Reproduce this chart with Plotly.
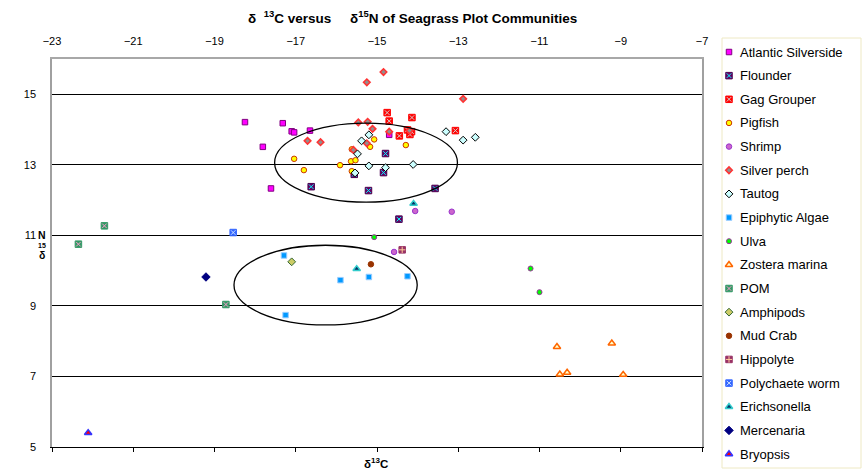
import plotly.graph_objects as go

# ---------------- data (δ13C, δ15N) ----------------
atlantic_silverside_x = [-18.25, -17.32, -17.10, -17.04, -16.65, -17.81, -17.61, -14.70]
atlantic_silverside_y = [14.21, 14.18, 13.95, 13.92, 13.97, 13.51, 12.33, 13.85]

flounder_x = [-14.79, -14.84, -16.62, -15.21, -13.57, -15.56, -14.46]
flounder_y = [13.32, 12.78, 12.38, 12.27, 12.33, 12.73, 11.46]

gag_grouper_x = [-14.75, -14.70, -14.14, -14.25, -14.15, -14.45, -14.19, -13.07]
gag_grouper_y = [14.48, 14.24, 14.34, 13.99, 13.94, 13.82, 13.86, 13.97]

pigfish_x = [-15.07, -15.17, -15.62, -14.29, -17.04, -16.80, -15.91, -15.64, -15.53, -15.62]
pigfish_y = [13.72, 13.51, 13.44, 13.56, 13.17, 12.85, 12.99, 13.10, 13.13, 12.82]

shrimp_x = [-14.06, -13.16, -14.58]
shrimp_y = [11.69, 11.67, 10.53]

silver_perch_x = [-14.84, -15.25, -12.88, -15.46, -15.23, -15.11, -14.70, -16.71, -16.39, -15.25, -15.58, -14.20]
silver_perch_y = [15.63, 15.34, 14.87, 14.20, 14.22, 14.02, 13.94, 13.68, 13.64, 13.61, 13.42, 13.97]

tautog_x = [-15.20, -15.38, -15.48, -15.20, -14.79, -14.11, -15.54, -13.30, -12.88, -12.58]
tautog_y = [13.85, 13.68, 13.31, 12.97, 12.92, 13.01, 12.77, 13.94, 13.70, 13.78]

epiphytic_algae_x = [-17.29, -15.90, -15.20, -14.25, -17.25]
epiphytic_algae_y = [10.43, 9.73, 9.82, 9.84, 8.74]

ulva_x = [-15.07, -11.22, -11.00]
ulva_y = [10.95, 10.06, 9.39]

zostera_x = [-10.57, -9.22, -10.50, -10.32, -8.94]
zostera_y = [7.84, 7.94, 7.06, 7.11, 7.05]

pom_x = [-21.71, -22.35, -18.72]
pom_y = [11.27, 10.75, 9.04]

amphipods_x = [-17.10]
amphipods_y = [10.25]

mud_crab_x = [-15.15]
mud_crab_y = [10.18]

hippolyte_x = [-14.38]
hippolyte_y = [10.59]

polychaete_x = [-18.54]
polychaete_y = [11.08]

erichsonella_x = [-14.10, -15.50]
erichsonella_y = [11.90, 10.05]

mercenaria_x = [-19.21]
mercenaria_y = [9.82]

bryopsis_x = [-22.11]
bryopsis_y = [5.40]

# ellipses drawn around the two groups: (x0, x1, y0, y1)
ellipse_upper = (-17.52, -13.02, 11.94, 14.18)
ellipse_lower = (-18.52, -14.01, 8.46, 10.72)

x_tick_vals = [-23, -21, -19, -17, -15, -13, -11, -9, -7]
y_tick_vals = [5, 7, 9, 11, 13, 15]

# name, x, y, style
series = [
    ("Atlantic Silverside", atlantic_silverside_x, atlantic_silverside_y,
     dict(symbol="square", size=5.5, fill="#FF00FF", line="#800080", lw=1, over=None)),
    ("Flounder", flounder_x, flounder_y,
     dict(symbol="square", size=6.5, fill="#660066", line="#4B0050", lw=1, over=("x-thin", "#00FFFF"))),
    ("Gag Grouper", gag_grouper_x, gag_grouper_y,
     dict(symbol="square", size=6.5, fill="#FF0000", line="#FF0000", lw=1, over=("x-thin", "#D0D0D0"))),
    ("Pigfish", pigfish_x, pigfish_y,
     dict(symbol="circle", size=5.5, fill="#FFFF00", line="#CC3300", lw=1, over=None)),
    ("Shrimp", shrimp_x, shrimp_y,
     dict(symbol="circle", size=5.5, fill="#CC66CC", line="#9933CC", lw=1, over=None)),
    ("Silver perch", silver_perch_x, silver_perch_y,
     dict(symbol="diamond", size=5, fill="#909090", line="#FF3333", lw=1.6, over=None)),
    ("Tautog", tautog_x, tautog_y,
     dict(symbol="diamond", size=6, fill="#CCFFFF", line="#000000", lw=1, over=None)),
    ("Epiphytic Algae", epiphytic_algae_x, epiphytic_algae_y,
     dict(symbol="square", size=5.5, fill="#0099FF", line="#99CCFF", lw=1, over=None)),
    ("Ulva", ulva_x, ulva_y,
     dict(symbol="circle", size=5, fill="#00FF00", line="#993399", lw=1, over=None)),
    ("Zostera marina", zostera_x, zostera_y,
     dict(symbol="triangle-up", size=6.5, fill="#FFFFCC", line="#FF6600", lw=1.5, over=None)),
    ("POM", pom_x, pom_y,
     dict(symbol="square", size=6.5, fill="#339966", line="#339966", lw=1, over=("x-thin", "#FF99CC"))),
    ("Amphipods", amphipods_x, amphipods_y,
     dict(symbol="diamond", size=6, fill="#CCCC66", line="#336633", lw=1, over=None)),
    ("Mud Crab", mud_crab_x, mud_crab_y,
     dict(symbol="circle", size=5.5, fill="#993300", line="#993300", lw=1, over=None)),
    ("Hippolyte", hippolyte_x, hippolyte_y,
     dict(symbol="square", size=6.5, fill="#993366", line="#993366", lw=1, over=("cross-thin", "#FFCC99"))),
    ("Polychaete worm", polychaete_x, polychaete_y,
     dict(symbol="square", size=6.5, fill="#3366FF", line="#3366FF", lw=1, over=("x-thin", "#CCE0FF"))),
    ("Erichsonella", erichsonella_x, erichsonella_y,
     dict(symbol="triangle-up", size=6.5, fill="#003366", line="#33CCCC", lw=1.5, over=None)),
    ("Mercenaria", mercenaria_x, mercenaria_y,
     dict(symbol="diamond", size=6.5, fill="#000080", line="#000080", lw=1, over=None)),
    ("Bryopsis", bryopsis_x, bryopsis_y,
     dict(symbol="triangle-up", size=6.5, fill="#FF0000", line="#3333FF", lw=1.5, over=None)),
]

FONT = "Arial, Liberation Sans, sans-serif"

# page geometry (pixels)
W, H = 862, 472
ML, MR, MT, MB = 52, 0, 30, 2
PW, PH = W - ML - MR, H - MT - MB


def px_x(p):
    return (p - ML) / PW


def px_y(p):
    return (H - MB - p) / PH


PLOT_L, PLOT_R, PLOT_T, PLOT_B = 52, 702, 59, 447
LEG_L, LEG_R, LEG_T, LEG_B = 722, 861, 38, 468
LEG_ROW0, LEG_ROW_STEP = 14, 23.65   # legend rows, measured from legend top
LEG_SYM_X, LEG_TXT_X = 7, 16

fig = go.Figure()


def add_marks(xs, ys, st, xa, ya, name):
    fig.add_trace(go.Scatter(
        x=xs, y=ys, mode="markers", name=name, xaxis=xa, yaxis=ya, showlegend=False,
        marker=dict(symbol=st["symbol"], size=st["size"], color=st["fill"],
                    line=dict(color=st["line"], width=st["lw"])),
    ))
    if st["over"]:
        sym, col = st["over"]
        fig.add_trace(go.Scatter(
            x=xs, y=ys, mode="markers", name=name, xaxis=xa, yaxis=ya, showlegend=False,
            hoverinfo="skip",
            marker=dict(symbol=sym, size=st["size"] - 2, color=col, line=dict(color=col, width=1)),
        ))


annotations = []
for i, (name, xs, ys, st) in enumerate(series):
    add_marks(xs, ys, st, "x", "y", name)
    row = LEG_ROW0 + LEG_ROW_STEP * i
    add_marks([LEG_SYM_X], [row], st, "x3", "y3", name)
    annotations.append(dict(text=name, xref="x3", yref="y3", x=LEG_TXT_X, y=row,
                            xanchor="left", yanchor="middle", showarrow=False,
                            font=dict(family=FONT, size=13, color="#000000")))

# invisible trace to carry the top axis
fig.add_trace(go.Scatter(x=[x_tick_vals[0]], y=[y_tick_vals[0]], xaxis="x2", yaxis="y", mode="markers",
                         marker=dict(opacity=0), showlegend=False, hoverinfo="skip"))

for (x0, x1, y0, y1) in (ellipse_upper, ellipse_lower):
    fig.add_shape(type="circle", xref="x", yref="y", x0=x0, x1=x1, y0=y0, y1=y1,
                  line=dict(color="#000000", width=1.3))

# legend box
fig.add_shape(type="rect", xref="paper", yref="paper",
              x0=px_x(LEG_L), x1=px_x(LEG_R), y0=px_y(LEG_B), y1=px_y(LEG_T),
              line=dict(color="#EEE9C4", width=1), fillcolor="rgba(0,0,0,0)", layer="below")

annotations += [
    dict(text="<b>δ&nbsp;&nbsp;<sup>13</sup>C versus&nbsp;&nbsp;&nbsp;&nbsp;&nbsp;δ<sup>15</sup>N of Seagrass Plot Communities</b>",
         xref="paper", yref="paper", x=px_x(412), y=px_y(17),
         xanchor="center", yanchor="middle", showarrow=False,
         font=dict(family=FONT, size=13.5)),
    dict(text="<b>δ<sup>13</sup>C</b>", xref="paper", yref="paper",
         x=px_x(376), y=px_y(463), xanchor="center", yanchor="middle",
         showarrow=False, font=dict(family=FONT, size=11.5)),
    dict(text="<b>N</b>", xref="paper", yref="paper", x=px_x(42), y=px_y(235),
         xanchor="center", yanchor="middle", showarrow=False, font=dict(family=FONT, size=10.5)),
    dict(text="<b>15</b>", xref="paper", yref="paper", x=px_x(42), y=px_y(245.5),
         xanchor="center", yanchor="middle", showarrow=False, font=dict(family=FONT, size=7)),
    dict(text="<b>δ</b>", xref="paper", yref="paper", x=px_x(42), y=px_y(254.5),
         xanchor="center", yanchor="middle", showarrow=False, font=dict(family=FONT, size=10.5)),
]

xdom = [px_x(PLOT_L), px_x(PLOT_R)]
ydom = [px_y(PLOT_B), px_y(PLOT_T)]

fig.update_layout(
    width=W, height=H,
    margin=dict(l=ML, r=MR, t=MT, b=MB, autoexpand=False),
    paper_bgcolor="white", plot_bgcolor="white",
    font=dict(family=FONT, size=11, color="#000000"),
    showlegend=False,
    xaxis=dict(domain=xdom, range=[-23, -7], tickvals=x_tick_vals, showticklabels=False,
               ticks="outside", ticklen=4, tickcolor="#000000", automargin=False,
               showgrid=False, zeroline=False,
               showline=True, linecolor="#000000", linewidth=1, mirror=False),
    xaxis2=dict(domain=xdom, range=[-23, -7], overlaying="x", side="top", tickvals=x_tick_vals,
                ticks="", showgrid=False, zeroline=False, showline=True, automargin=False,
                linecolor="#A8A8A8", linewidth=1.5, ticklabelstandoff=8,
                tickfont=dict(family=FONT, size=11)),
    yaxis=dict(domain=ydom, range=[5, 16], tickvals=y_tick_vals, ticks="", automargin=False,
               showgrid=True, gridcolor="#000000", gridwidth=1,
               zeroline=False, showline=True, linecolor="#A0A0A0", linewidth=1.5,
               mirror=True, ticklabelstandoff=12,
               tickfont=dict(family=FONT, size=11)),
    xaxis3=dict(domain=[px_x(LEG_L), px_x(LEG_R)], range=[0, LEG_R - LEG_L],
                visible=False, fixedrange=True, anchor="y3"),
    yaxis3=dict(domain=[px_y(LEG_B), px_y(LEG_T)], range=[LEG_B - LEG_T, 0],
                visible=False, fixedrange=True, anchor="x3"),
    annotations=annotations,
)

fig.write_html("out.html", config={"displayModeBar": False},
               post_script="document.body.style.margin='0px';document.body.style.overflow='hidden';")
